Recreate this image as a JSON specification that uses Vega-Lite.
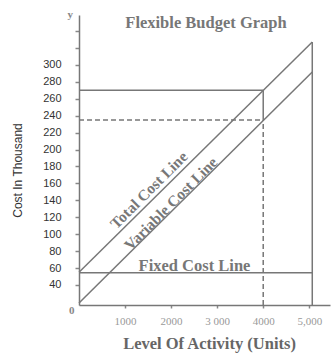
{
  "$schema": "https://vega.github.io/schema/vega-lite/v6.json",
  "width": 251,
  "height": 290,
  "autosize": {"type": "none"},
  "padding": {"left": 79, "top": 15, "right": 3, "bottom": 50},
  "background": "white",
  "config": {"view": {"stroke": null}},
  "datasets": {
    "segments": [
      {"name": "Variable Cost Line", "role": "cost", "x": 0, "y": 18.7, "x2": 5065, "y2": 291.7},
      {"name": "Total Cost Line", "role": "cost", "x": 0, "y": 55, "x2": 5065, "y2": 327},
      {"name": "Fixed Cost Line", "role": "cost", "x": 0, "y": 54.5, "x2": 5065, "y2": 54.5},
      {"name": "Total cost at 4000 units", "role": "cost", "x": 0, "y": 270, "x2": 4000, "y2": 270},
      {"name": "Fixed cost gap at 4000 units", "role": "cost", "x": 4000, "y": 235, "x2": 4000, "y2": 270},
      {"name": "Capacity 5000 units", "role": "cost", "x": 5065, "y": 16.3, "x2": 5065, "y2": 327},
      {"name": "Variable cost at 4000 units", "role": "reading", "x": 0, "y": 235, "x2": 4000, "y2": 235},
      {"name": "Activity 4000 units", "role": "reading", "x": 4000, "y": 16.3, "x2": 4000, "y2": 235}
    ],
    "labels": [
      {"label": "Total Cost Line", "kind": "diagonal", "x": 1520, "y": 152},
      {"label": "Variable Cost Line", "kind": "diagonal", "x": 1997, "y": 136},
      {"label": "Fixed Cost Line", "kind": "flat", "x": 2508, "y": 56.8},
      {"label": "Flexible Budget Graph", "kind": "flat", "x": 2757, "y": 344}
    ],
    "corner": [
      {"label": "y", "x": -190, "y": 359},
      {"label": "0", "x": -160, "y": 9}
    ]
  },
  "encoding": {
    "x": {
      "field": "x",
      "type": "quantitative",
      "scale": {"domain": [0, 5450], "nice": false, "zero": false},
      "axis": {
        "values": [1000, 2000, 3000, 4000, 5000],
        "labelExpr": "datum.value == 5000 ? '5,000' : datum.value == 3000 ? '3 000' : format(datum.value, 'd')",
        "grid": false,
        "tickSize": 3,
        "tickColor": "#888",
        "tickWidth": 1.5,
        "labelPadding": 7,
        "labelFont": "Liberation Serif",
        "labelFontSize": 11,
        "labelColor": "#999",
        "labelOverlap": false,
        "labelFlush": false,
        "domainColor": "#777",
        "domainWidth": 1.5,
        "title": "Level Of Activity (Units)",
        "titleFont": "Liberation Serif",
        "titleFontSize": 16.5,
        "titleFontWeight": "bold",
        "titleColor": "#666",
        "titleX": 130,
        "titleY": 43,
        "titleAlign": "center",
        "titleBaseline": "alphabetic"
      }
    },
    "y": {
      "field": "y",
      "type": "quantitative",
      "scale": {"domain": [16.3, 359], "nice": false, "zero": false},
      "axis": {
        "values": [40, 60, 80, 100, 120, 140, 160, 180, 200, 220, 240, 260, 280, 300, 320, 340],
        "labelExpr": "datum.value <= 300 ? format(datum.value, 'd') : ''",
        "grid": false,
        "tickSize": 4,
        "tickColor": "#888",
        "tickWidth": 1.5,
        "labelPadding": 14,
        "labelFont": "Liberation Sans",
        "labelFontSize": 11,
        "labelColor": "#333",
        "domainColor": "#777",
        "domainWidth": 1.5,
        "title": "Cost In Thousand",
        "titleFont": "Liberation Sans",
        "titleFontSize": 12,
        "titleFontWeight": "normal",
        "titleColor": "#333",
        "titleX": -62,
        "titleY": 155,
        "titleAlign": "center",
        "titleBaseline": "middle"
      }
    }
  },
  "layer": [
    {
      "data": {"name": "segments"},
      "transform": [{"filter": "datum.role == 'cost'"}],
      "mark": {"type": "rule", "color": "#777", "strokeWidth": 1.5},
      "encoding": {"x2": {"field": "x2"}, "y2": {"field": "y2"}}
    },
    {
      "data": {"name": "segments"},
      "transform": [{"filter": "datum.role == 'reading'"}],
      "mark": {"type": "rule", "color": "#777", "strokeWidth": 1.5, "strokeDash": [5, 3]},
      "encoding": {"x2": {"field": "x2"}, "y2": {"field": "y2"}}
    },
    {
      "data": {"name": "labels"},
      "transform": [{"filter": "datum.kind == 'diagonal'"}],
      "mark": {"type": "text", "angle": 315, "font": "Liberation Serif", "fontSize": 15.5, "fontWeight": "bold", "color": "#777", "align": "center", "baseline": "middle"},
      "encoding": {"text": {"field": "label"}}
    },
    {
      "data": {"name": "labels"},
      "transform": [{"filter": "datum.kind == 'flat'"}],
      "mark": {"type": "text", "font": "Liberation Serif", "fontSize": 16.5, "fontWeight": "bold", "color": "#777", "align": "center", "baseline": "alphabetic"},
      "encoding": {"text": {"field": "label"}}
    },
    {
      "data": {"name": "corner"},
      "mark": {"type": "text", "font": "Liberation Serif", "fontSize": 11, "fontWeight": "bold", "color": "#888", "align": "center", "baseline": "middle"},
      "encoding": {"text": {"field": "label"}}
    }
  ]
}
